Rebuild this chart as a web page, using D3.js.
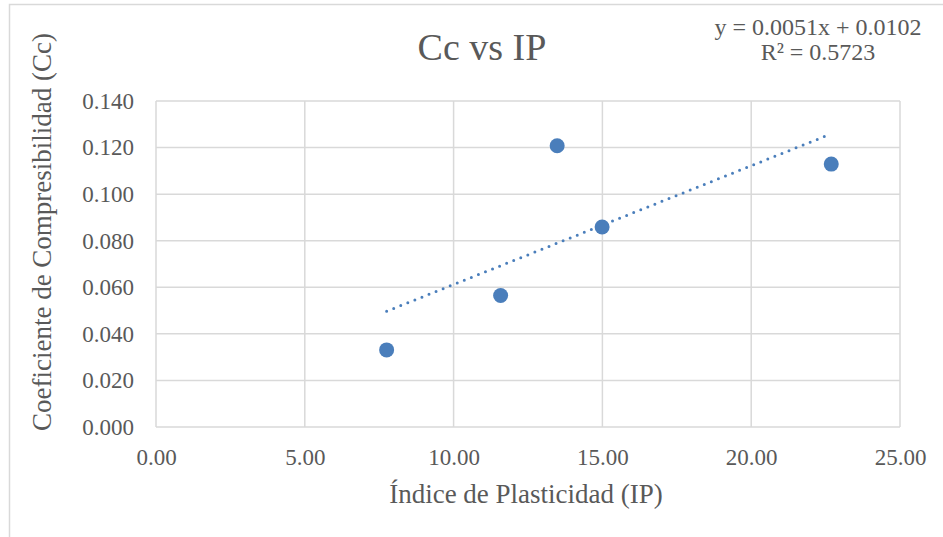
<!DOCTYPE html>
<html>
<head>
<meta charset="utf-8">
<script src="https://cdn.jsdelivr.net/npm/d3@7"></script>
<style>
  body { margin: 0; background: #fff; }
  text { font-family: "Liberation Serif", "Times New Roman", serif; fill: #595959; }
</style>
</head>
<body>
<div id="chart"></div>
<script>
// data
var ipValues = [7.75, 11.58, 13.48, 14.99, 22.69];
var ccValues = [0.0331, 0.0565, 0.1208, 0.0859, 0.1129];
var xTicks = [0, 5, 10, 15, 20, 25];
var yTicks = [0, 0.02, 0.04, 0.06, 0.08, 0.10, 0.12, 0.14];
// trendline as printed on the chart
var trendSlope = 0.0051, trendIntercept = 0.0102;
var trendLabel = ["y = 0.0051x + 0.0102", "R² = 0.5723"];

var W = 943, H = 537;
var margin = { top: 101, right: 43, bottom: 110, left: 156 },
  width = W - margin.left - margin.right,
  height = H - margin.top - margin.bottom;

var svg = d3.select("#chart").append("svg")
  .attr("width", W).attr("height", H);

// chart frame
svg.append("rect")
  .attr("x", 9.5).attr("y", 4.5)
  .attr("width", W + 20).attr("height", H + 20)
  .attr("fill", "none").attr("stroke", "#d9d9d9").attr("stroke-width", 1.5);

var g = svg.append("g")
  .attr("transform", "translate(" + margin.left + "," + margin.top + ")");

var x = d3.scaleLinear().domain([0, 25]).range([0, width]);
var y = d3.scaleLinear().domain([0, 0.14]).range([height, 0]);

// gridlines
g.selectAll(".hgrid").data(yTicks).enter().append("line")
  .attr("x1", 0).attr("x2", width)
  .attr("y1", d => y(d)).attr("y2", d => y(d))
  .attr("stroke", "#d9d9d9").attr("stroke-width", 1.5);
g.selectAll(".vgrid").data(xTicks).enter().append("line")
  .attr("y1", 0).attr("y2", height)
  .attr("x1", d => x(d)).attr("x2", d => x(d))
  .attr("stroke", "#d9d9d9").attr("stroke-width", 1.5);

// axes (labels only, lines drawn as grid)
var xAxis = g.append("g")
  .attr("transform", "translate(0," + height + ")")
  .call(d3.axisBottom(x).tickValues(xTicks).tickFormat(d3.format(".2f")).tickSize(0).tickPadding(22));
var yAxis = g.append("g")
  .call(d3.axisLeft(y).tickValues(yTicks).tickFormat(d3.format(".3f")).tickSize(0).tickPadding(22));
[xAxis, yAxis].forEach(a => {
  a.select(".domain").remove();
  a.selectAll("text")
    .style("font-family", '"Liberation Serif", serif')
    .style("font-size", "23px")
    .attr("fill", "#595959");
});

// trendline
var x0 = d3.min(ipValues), x1 = d3.max(ipValues);
g.append("line")
  .attr("x1", x(x0)).attr("y1", y(trendSlope * x0 + trendIntercept))
  .attr("x2", x(x1)).attr("y2", y(trendSlope * x1 + trendIntercept))
  .attr("stroke", "#4a7ebb").attr("stroke-width", 3)
  .attr("stroke-linecap", "round")
  .attr("stroke-dasharray", "0 7.6");

// points
g.selectAll(".pt").data(ipValues).enter().append("circle")
  .attr("cx", d => x(d))
  .attr("cy", (d, i) => y(ccValues[i]))
  .attr("r", 7.5)
  .attr("fill", "#4a7ebb");

// title
svg.append("text")
  .attr("x", 482).attr("y", 60)
  .attr("text-anchor", "middle")
  .style("font-size", "38px")
  .text("Cc vs IP");

// trend equation
svg.selectAll(".eq").data(trendLabel).enter().append("text")
  .attr("x", 818).attr("y", (d, i) => 35 + i * 25)
  .attr("text-anchor", "middle")
  .style("font-size", "24px")
  .text(d => d);

// axis titles
svg.append("text")
  .attr("x", 526).attr("y", 503)
  .attr("text-anchor", "middle")
  .style("font-size", "27px")
  .text("Índice de Plasticidad (IP)");

svg.append("text")
  .attr("transform", "translate(51,232) rotate(-90)")
  .attr("text-anchor", "middle")
  .style("font-size", "27px")
  .text("Coeficiente de Compresibilidad (Cc)");
</script>
</body>
</html>
